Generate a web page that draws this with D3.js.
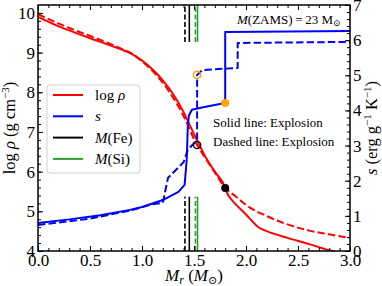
<!DOCTYPE html>
<html><head><meta charset="utf-8">
<script src="https://cdn.jsdelivr.net/npm/d3@7"></script>
<style>body{margin:0;background:#fff}svg{display:block}text{font-family:"Liberation Serif","DejaVu Serif",serif}</style>
</head><body>
<script>
// ---- data ----
const rhoSolidM = [0,0.2,0.4,0.6,0.8,0.9,1.0,1.1,1.2,1.3,1.4,1.45,1.5,1.55,1.6,1.7,1.8,1.82,1.85,1.9,2.0,2.13,2.2,2.4,2.6,2.8,2.9,3.0];
const rhoSolid  = [9.90,9.66,9.46,9.27,9.08,8.97,8.80,8.58,8.30,7.95,7.50,7.22,6.95,6.68,6.42,6.00,5.60,5.45,5.33,5.18,4.92,4.58,4.50,4.33,4.18,4.02,3.96,3.90];
const rhoDashM  = [0,0.2,0.4,0.6,0.8,0.9,1.0,1.1,1.2,1.3,1.4,1.5,1.53,1.6,1.7,1.8,1.9,2.0,2.2,2.4,2.6,2.8,3.0];
const rhoDash   = [9.97,9.73,9.52,9.32,9.10,8.98,8.78,8.54,8.24,7.86,7.40,6.82,6.67,6.38,5.98,5.59,5.38,5.16,4.88,4.67,4.52,4.42,4.33];
const sSolidM = [0,0.3,0.6,0.885,1.0,1.2,1.35,1.41,1.43,1.44,1.45,1.48,1.6,1.8,1.8,3.0];
const sSolid  = [0.80,0.90,1.02,1.17,1.25,1.45,1.68,1.88,2.6,3.5,3.85,4.02,4.10,4.21,6.23,6.26];
const sDashM  = [0,0.5,0.885,1.1,1.2,1.25,1.4,1.44,1.5,1.53,1.53,1.58,1.92,1.92,3.0];
const sDash   = [0.74,0.92,1.15,1.33,1.37,2.08,2.53,2.87,3.07,3.15,5.01,5.15,5.21,5.92,5.95];
const feMass = {solid:1.455, dashed:1.413};
const siMass = {solid:1.534, dashed:1.514};
const cutSolid = {m:1.80, rho:5.59, s:4.21};
const cutDash  = {m:1.53, rho:6.67, s:5.01};
const xTicks = [0,0.5,1.0,1.5,2.0,2.5,3.0];
const yLTicks = [4,5,6,7,8,9,10];
const yRTicks = [0,1,2,3,4,5,6,7];

const W=382,H=286, L=38,R=350,T=5,B=251;
const svg=d3.select("body").append("svg").attr("width",W).attr("height",H);
const x=d3.scaleLinear([0,3],[L,R]);
const yL=d3.scaleLinear([4,10.2],[B,T]);
const yR=d3.scaleLinear([0,7],[B,T]);

svg.append("defs").append("clipPath").attr("id","c").append("rect").attr("x",L).attr("y",T).attr("width",R-L).attr("height",B-T);
const g=svg.append("g").attr("clip-path","url(#c)");

// vertical mass lines (axes-fraction segments)
const segs=[[4,5.37],[9.27,10.2]];
function vline(m,color,dash){
  segs.forEach(s=>g.append("line").attr("x1",x(m)).attr("x2",x(m)).attr("y1",yL(s[0])).attr("y2",yL(s[1]))
    .attr("stroke",color).attr("stroke-width",1.6).attr("stroke-dasharray",dash?"5,2.5":null));
}
vline(feMass.dashed,"#000",true);
vline(feMass.solid,"#000",false);
vline(siMass.dashed,"#2ca02c",true);
vline(siMass.solid,"#2ca02c",false);

const red="#ff0000", blue="#0000ff", orange="#ffa500";
function path(ms,vs,ys,color,dash,curve){
  const line=d3.line().x(d=>x(d[0])).y(d=>ys(d[1])).curve(curve||d3.curveLinear);
  g.append("path").attr("d",line(ms.map((m,i)=>[m,vs[i]]))).attr("fill","none").attr("stroke",color)
   .attr("stroke-width",2).attr("stroke-dasharray",dash?"7.4,3.2":null).attr("stroke-linejoin","round");
}
path(rhoDashM,rhoDash,yL,red,true,d3.curveMonotoneX);
path(rhoSolidM,rhoSolid,yL,red,false,d3.curveMonotoneX);
path(sDashM,sDash,yR,blue,true);
path(sSolidM,sSolid,yR,blue,false);

// mass cut markers
g.append("circle").attr("cx",x(cutSolid.m)).attr("cy",yL(cutSolid.rho)).attr("r",4).attr("fill","#000");
g.append("circle").attr("cx",x(cutDash.m)).attr("cy",yL(cutDash.rho)).attr("r",3.6).attr("fill","none").attr("stroke","#000").attr("stroke-width",1.3);
g.append("circle").attr("cx",x(cutSolid.m)).attr("cy",yR(cutSolid.s)).attr("r",4).attr("fill",orange);
g.append("circle").attr("cx",x(cutDash.m)).attr("cy",yR(cutDash.s)).attr("r",3.6).attr("fill","none").attr("stroke",orange).attr("stroke-width",1.5);

// axes
const fs=17;
const minorX=d3.range(0,3.001,0.1), minorYL=d3.range(4,10.2,0.2), minorYR=d3.range(0,7.001,0.2);
let a=svg.append("g").attr("transform",`translate(0,${B})`).call(d3.axisBottom(x).tickValues(xTicks).tickFormat(d3.format(".1f")).tickSize(-5).tickPadding(3));
a.selectAll("text").attr("font-size",fs).attr("fill","#000").attr("dy","0.72em");
svg.append("g").attr("transform",`translate(0,${B})`).call(d3.axisBottom(x).tickValues(minorX).tickFormat("").tickSize(-3));
svg.append("g").attr("transform",`translate(0,${T})`).call(d3.axisTop(x).tickValues(xTicks).tickFormat("").tickSize(-5));
svg.append("g").attr("transform",`translate(0,${T})`).call(d3.axisTop(x).tickValues(minorX).tickFormat("").tickSize(-3));
a=svg.append("g").attr("transform",`translate(${L},0)`).call(d3.axisLeft(yL).tickValues(yLTicks).tickFormat(d3.format("d")).tickSize(-5).tickPadding(3));
a.selectAll("text").attr("font-size",fs).attr("fill","#000");
svg.append("g").attr("transform",`translate(${L},0)`).call(d3.axisLeft(yL).tickValues(minorYL).tickFormat("").tickSize(-3));
a=svg.append("g").attr("transform",`translate(${R},0)`).call(d3.axisRight(yR).tickValues(yRTicks).tickFormat(d3.format("d")).tickSize(-5).tickPadding(3));
a.selectAll("text").attr("font-size",fs).attr("fill","#000");
svg.append("g").attr("transform",`translate(${R},0)`).call(d3.axisRight(yR).tickValues(minorYR).tickFormat("").tickSize(-3));
svg.selectAll(".domain").remove();
svg.selectAll(".tick line").attr("stroke","#000").attr("stroke-width",1);
svg.append("rect").attr("x",L).attr("y",T).attr("width",R-L).attr("height",B-T).attr("fill","none").attr("stroke","#000").attr("stroke-width",1.5);

// axis labels
let t=svg.append("text").attr("x",(L+R)/2).attr("y",281).attr("text-anchor","middle").attr("font-size",17);
t.append("tspan").attr("font-style","italic").text("M");
t.append("tspan").attr("font-style","italic").attr("font-size",12).attr("dy",3).text("r");
t.append("tspan").attr("dy",-3).text(" (");
t.append("tspan").attr("font-style","italic").text("M");
t.append("tspan").attr("font-size",11).attr("dy",3).text("⊙");
t.append("tspan").attr("dy",-3).text(")");

t=svg.append("text").attr("transform",`translate(15,${(T+B)/2}) rotate(-90)`).attr("text-anchor","middle").attr("font-size",16.5);
t.append("tspan").text("log ");
t.append("tspan").attr("font-style","italic").text("ρ");
t.append("tspan").text(" (g cm");
t.append("tspan").attr("font-size",11).attr("dy",-6).text("−3");
t.append("tspan").attr("dy",6).text(")");

t=svg.append("text").attr("transform",`translate(377,${(T+B)/2}) rotate(-90)`).attr("text-anchor","middle").attr("font-size",16.5);
t.append("tspan").attr("font-style","italic").text("s");
t.append("tspan").text(" (erg g");
t.append("tspan").attr("font-size",11).attr("dy",-6).text("−1");
t.append("tspan").attr("dy",6).text(" K");
t.append("tspan").attr("font-size",11).attr("dy",-6).text("−1");
t.append("tspan").attr("dy",6).text(")");

// annotations
t=svg.append("text").attr("x",237).attr("y",24).attr("font-size",13);
t.append("tspan").attr("font-style","italic").text("M");
t.append("tspan").text("(ZAMS)\u2009=\u200923 M");
t.append("tspan").attr("font-size",9).attr("dy",2).text("⊙");
svg.append("text").attr("x",213).attr("y",127).attr("font-size",13).text("Solid line: Explosion");
svg.append("text").attr("x",213).attr("y",146).attr("font-size",13).text("Dashed line: Explosion");

// legend
const leg=[{lab:"log ρ",c:red},{lab:"s",c:blue},{lab:"M(Fe)",c:"#000"},{lab:"M(Si)",c:"#2ca02c"}];
svg.append("rect").attr("x",47).attr("y",85).attr("width",93).attr("height",88).attr("rx",3).attr("fill","#fff").attr("fill-opacity",0.85).attr("stroke","#d0d0d0");
leg.forEach((d,i)=>{
  const yy=95+i*21.3;
  svg.append("line").attr("x1",53).attr("x2",83).attr("y1",yy).attr("y2",yy).attr("stroke",d.c).attr("stroke-width",2);
  const tt=svg.append("text").attr("x",95).attr("y",yy+5).attr("font-size",15);
  if(i===0){tt.append("tspan").text("log ");tt.append("tspan").attr("font-style","italic").text("ρ");}
  else if(i===1){tt.append("tspan").attr("font-style","italic").text("s");}
  else {tt.append("tspan").attr("font-style","italic").text("M");tt.append("tspan").text(d.lab.slice(1));}
});
</script>
</body></html>
